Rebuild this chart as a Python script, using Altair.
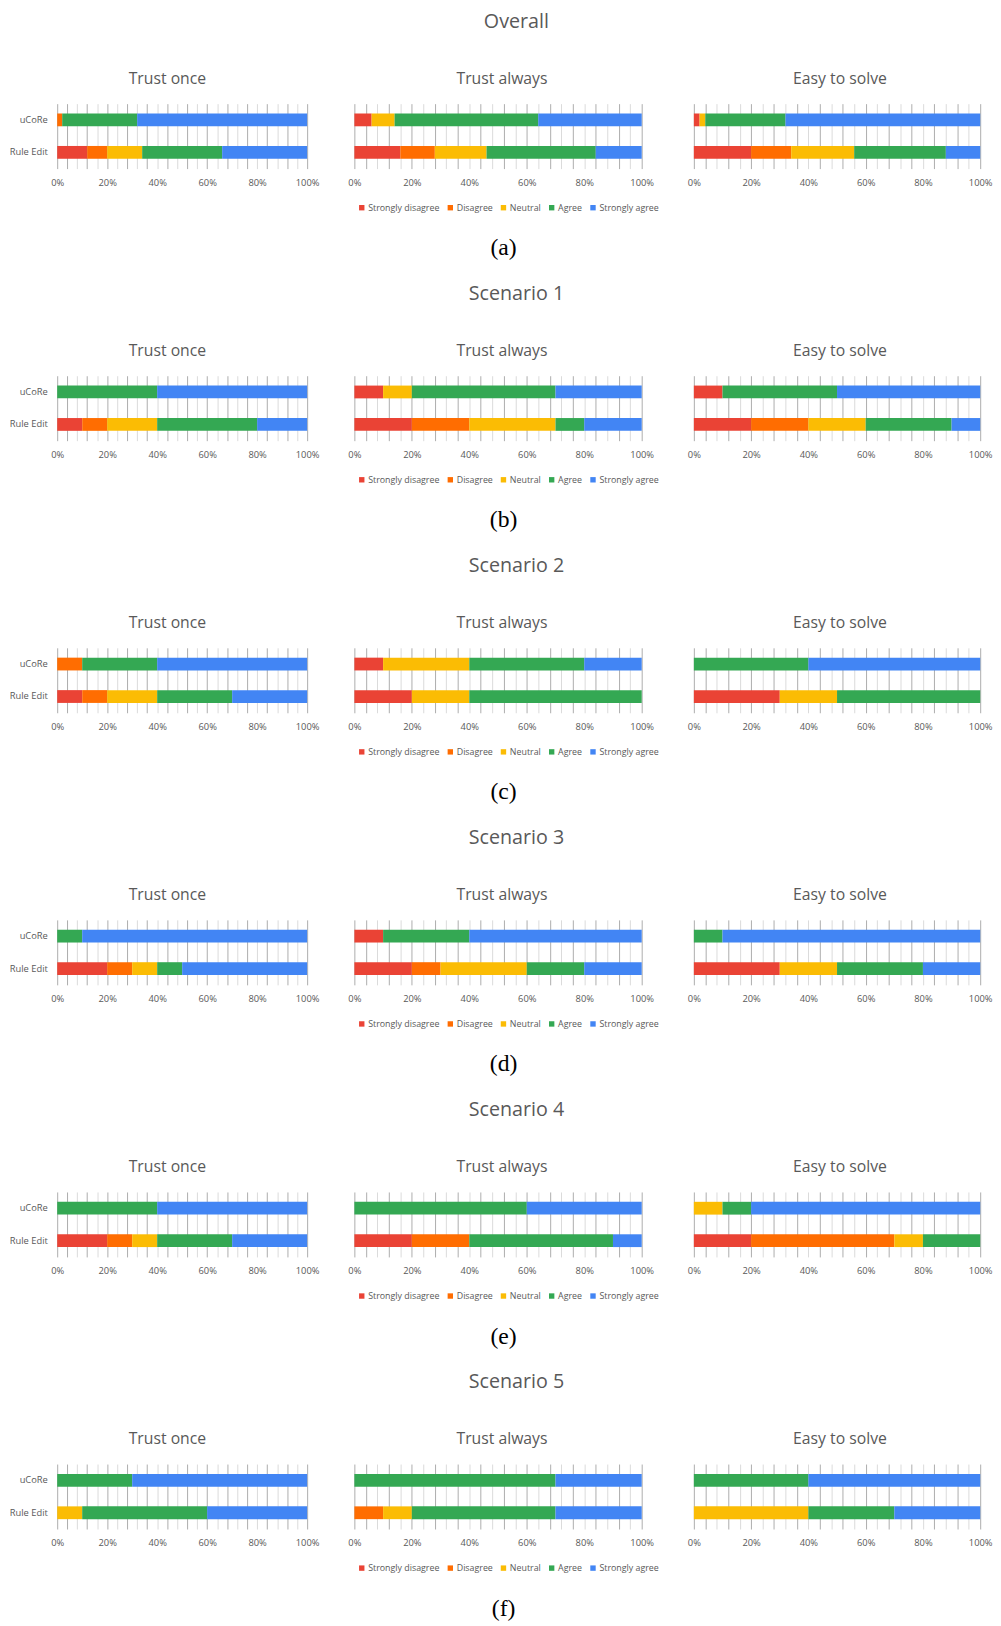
import altair as alt
import pandas as pd

LEVELS = ["Strongly disagree", "Disagree", "Neutral", "Agree", "Strongly agree"]
COLORS = ["#EA4335", "#FF6D01", "#FBBC04", "#34A853", "#4285F4"]
GROUPS = ["uCoRe", "Rule Edit"]
QUESTIONS = ["Trust once", "Trust always", "Easy to solve"]
SECTIONS = ["Overall", "Scenario 1", "Scenario 2", "Scenario 3", "Scenario 4", "Scenario 5"]
CAPTIONS = ["(a)", "(b)", "(c)", "(d)", "(e)", "(f)"]

# percent of answers per level (LEVELS order); per question: (uCoRe, Rule Edit)
OVERALL = [
    ([0, 2, 0, 30, 68], [12, 8, 14, 32, 34]),
    ([6, 0, 8, 50, 36], [16, 12, 18, 38, 16]),
    ([2, 0, 2, 28, 68], [20, 14, 22, 32, 12]),
]
SCENARIO_1 = [
    ([0, 0, 0, 40, 60], [10, 10, 20, 40, 20]),
    ([10, 0, 10, 50, 30], [20, 20, 30, 10, 20]),
    ([10, 0, 0, 40, 50], [20, 20, 20, 30, 10]),
]
SCENARIO_2 = [
    ([0, 10, 0, 30, 60], [10, 10, 20, 30, 30]),
    ([10, 0, 30, 40, 20], [20, 0, 20, 60, 0]),
    ([0, 0, 0, 40, 60], [30, 0, 20, 50, 0]),
]
SCENARIO_3 = [
    ([0, 0, 0, 10, 90], [20, 10, 10, 10, 50]),
    ([10, 0, 0, 30, 60], [20, 10, 30, 20, 20]),
    ([0, 0, 0, 10, 90], [30, 0, 20, 30, 20]),
]
SCENARIO_4 = [
    ([0, 0, 0, 40, 60], [20, 10, 10, 30, 30]),
    ([0, 0, 0, 60, 40], [20, 20, 0, 50, 10]),
    ([0, 0, 10, 10, 80], [20, 50, 10, 20, 0]),
]
SCENARIO_5 = [
    ([0, 0, 0, 30, 70], [0, 0, 10, 50, 40]),
    ([0, 0, 0, 70, 30], [0, 10, 10, 50, 30]),
    ([0, 0, 0, 40, 60], [0, 0, 40, 30, 30]),
]
ALL = [OVERALL, SCENARIO_1, SCENARIO_2, SCENARIO_3, SCENARIO_4, SCENARIO_5]

rows = []
for s, sec in enumerate(ALL):
    for q, pair in enumerate(sec):
        for g, vals in enumerate(pair):
            for l, v in enumerate(vals):
                rows.append({"section": SECTIONS[s], "question": QUESTIONS[q],
                             "group": GROUPS[g], "level": LEVELS[l],
                             "idx": l, "value": v / 100.0})
df = pd.DataFrame(rows)

GRID_VALUES = [i / 25 for i in range(26)]
TEXT_GRAY = "#595959"
FONT = "Open Sans"
WIDTHS = [254, 292, 291]
TITLE_DX = [-15, 4, 3]


def panel(s, q):
    sub = df[(df.section == SECTIONS[s]) & (df.question == QUESTIONS[q])]
    x_axis = alt.Axis(values=GRID_VALUES, grid=True,
                      gridColor=alt.condition("round(datum.value*25) % 2 == 1 || datum.value == 0",
                                              alt.value("#ababab"), alt.value("#dadada")),
                      gridWidth=1,
                      domain=False, ticks=False, labelFlush=False, labelPadding=9,
                      labelFontSize=9.5, labelFont=FONT, labelColor=TEXT_GRAY, title=None,
                      labelExpr="round(datum.value*100) % 20 == 0 ? round(datum.value*100) + '%' : ''")
    if q == 0:
        y_axis = alt.Axis(domain=False, ticks=False, grid=False, labelPadding=10,
                          labelFontSize=9.5, labelFont=FONT, labelColor=TEXT_GRAY, title=None)
    else:
        y_axis = None
    if q == 1:
        legend = alt.Legend(orient="none", legendX=3, legendY=101, direction="horizontal",
                            title=None, symbolType="square", symbolSize=30,
                            symbolStrokeWidth=0, labelFontSize=9, labelFont=FONT,
                            labelColor=TEXT_GRAY, columnPadding=6, labelOffset=2)
    else:
        legend = None
    return alt.Chart(sub).mark_bar(size=13).encode(
        x=alt.X("sum(value):Q", stack="zero",
                scale=alt.Scale(domain=[0, 1], nice=False), axis=x_axis),
        y=alt.Y("group:N", sort=GROUPS, axis=y_axis),
        color=alt.Color("level:N", scale=alt.Scale(domain=LEVELS, range=COLORS), legend=legend),
        order=alt.Order("idx:Q"),
    ).properties(
        width=WIDTHS[q], height=66,
        title=alt.TitleParams(QUESTIONS[q], fontSize=16, font=FONT, color=TEXT_GRAY,
                              fontWeight="normal", offset=17, dx=TITLE_DX[q]),
    )


sections = []
for s in range(len(SECTIONS)):
    row = alt.hconcat(*[panel(s, q) for q in range(3)], spacing=28).properties(
        title=alt.TitleParams(SECTIONS[s], fontSize=20, font=FONT, color=TEXT_GRAY,
                              fontWeight="normal", anchor="middle", dx=16, offset=40)
    ).resolve_legend(color="independent")
    sec = alt.vconcat(row).properties(
        title=alt.TitleParams(CAPTIONS[s], orient="bottom", fontSize=24,
                              font="Liberation Serif", color="black",
                              fontWeight="normal", anchor="middle", dx=3, offset=24)
    ).resolve_legend(color="independent")
    sections.append(sec)

chart = alt.vconcat(*sections, spacing=24.5).resolve_legend(color="independent").configure(
    padding={"left": 1, "top": -9, "right": 0, "bottom": 0}
).configure_view(stroke=None)

chart.save("out.html", embed_options={"renderer": "svg", "actions": False})
